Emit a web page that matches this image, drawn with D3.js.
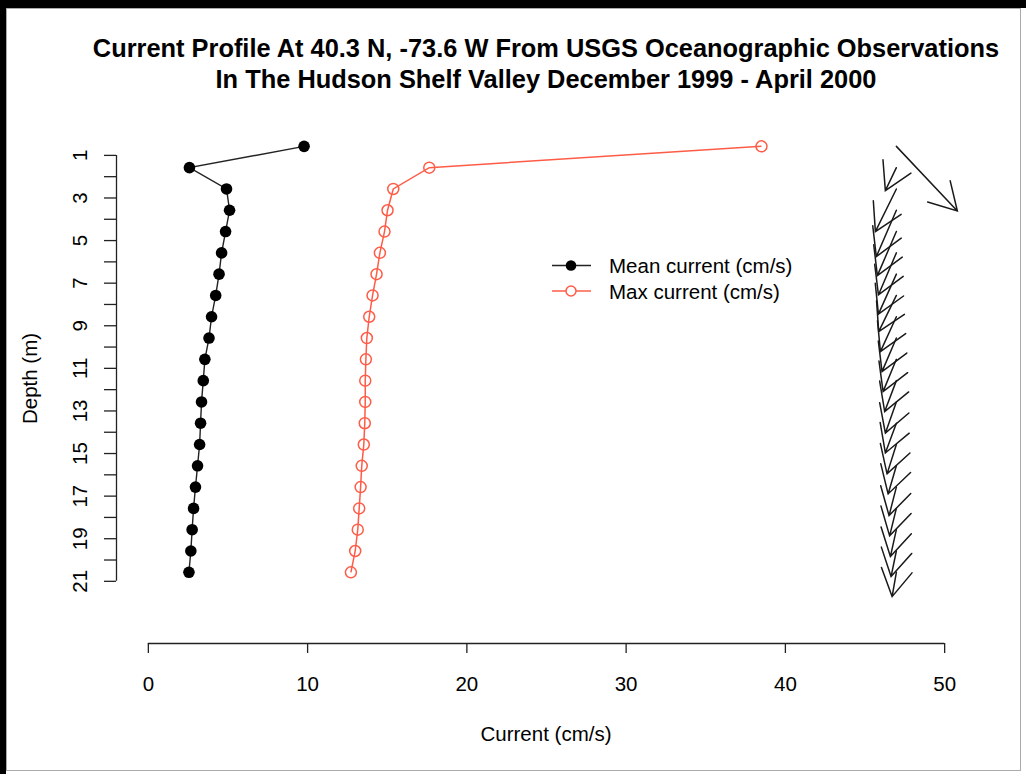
<!DOCTYPE html>
<html>
<head>
<meta charset="utf-8">
<script src="https://cdn.jsdelivr.net/npm/d3@7"></script>
<style>
  html, body { margin: 0; padding: 0; background: #fff; }
  svg { display: block; }
  text { font-family: "Liberation Sans", Arial, Helvetica, sans-serif; fill: #000; }
</style>
</head>
<body>
<svg id="chart" width="1026" height="774"></svg>
<script>
// ---- data ----
const titleLines = [
  "Current Profile At 40.3 N, -73.6 W From USGS Oceanographic Observations",
  "In The Hudson Shelf Valley December 1999 - April 2000"
];
const depths = [0.6, 1.6, 2.6, 3.6, 4.6, 5.6, 6.6, 7.6, 8.6, 9.6, 10.6,
                11.6, 12.6, 13.6, 14.6, 15.6, 16.6, 17.6, 18.6, 19.6, 20.6];
const meanCurrent = [9.81, 2.61, 4.94, 5.13, 4.88, 4.63, 4.47, 4.26, 4.00, 3.84, 3.58,
                     3.48, 3.37, 3.31, 3.25, 3.12, 2.99, 2.87, 2.78, 2.70, 2.58];
const maxCurrent = [38.53, 17.67, 15.41, 15.05, 14.86, 14.57, 14.36, 14.11, 13.90, 13.75, 13.69,
                    13.65, 13.65, 13.62, 13.56, 13.43, 13.36, 13.27, 13.18, 13.02, 12.75];
// mean velocity vector components (cm/s): east (u) and north (v)
const meanU = [6.42, -1.16, -2.21, -2.11, -2.00, -1.89, -1.89, -1.86, -1.68, -1.51, -1.40,
               -1.23, -1.16, -1.16, -0.98, -0.87, -0.77, -0.71, -0.63, -0.56, -0.45];
const meanV = [-6.80, -2.42, -4.49, -4.88, -4.64, -4.43, -4.21, -3.81, -3.67, -3.54, -3.40,
               -3.26, -3.29, -3.13, -3.09, -2.96, -3.00, -2.89, -2.83, -2.69, -2.56];
const arrowOriginX = 47;
const xTicks = [0, 10, 20, 30, 40, 50];
const yTicks = [1, 2, 3, 4, 5, 6, 7, 8, 9, 10, 11, 12, 13, 14, 15, 16, 17, 18, 19, 20, 21];
const yTickLabels = [1, 3, 5, 7, 9, 11, 13, 15, 17, 19, 21];
const legendLabels = ["Mean current (cm/s)", "Max current (cm/s)"];
const xTitle = "Current (cm/s)";
const yTitle = "Depth (m)";

// ---- layout ----
const svg = d3.select("#chart");
const plot = { left: 116, right: 976, top: 114, bottom: 643 };
const x = d3.scaleLinear().domain([-2, 52]).range([plot.left, plot.right]);
const y = d3.scaleLinear().domain([-0.92, 23.92]).range([plot.top, plot.bottom]);
const vecScale = d3.scaleLinear().domain([0, 1]).range([0, 9.5]);
const meanColor = "#000";
const maxColor = "#ff5c47";

svg.append("rect").attr("width", 1026).attr("height", 774).attr("fill", "#fff");

// frame
svg.append("rect").attr("x", 6.5).attr("y", 8.5).attr("width", 1014).attr("height", 762)
  .attr("fill", "none").attr("stroke", "#aaa").attr("stroke-width", 1);
svg.append("rect").attr("x", 0).attr("y", 0).attr("width", 1026).attr("height", 8).attr("fill", "#000");
svg.append("rect").attr("x", 0).attr("y", 0).attr("width", 6).attr("height", 774).attr("fill", "#000");

// title
const cx = (plot.left + plot.right) / 2;
svg.selectAll("text.title").data(titleLines).join("text")
  .attr("class", "title")
  .attr("x", cx).attr("y", (d, i) => 57 + i * 31)
  .attr("text-anchor", "middle")
  .attr("font-size", 25.4).attr("font-weight", "bold")
  .text(d => d);

// x axis
const xAxis = d3.axisBottom(x).tickValues(xTicks).tickSize(10).tickPadding(23).tickFormat(d3.format("d"));
const gx = svg.append("g").attr("transform", `translate(0,${plot.bottom})`).call(xAxis);
gx.select(".domain").attr("d", `M${x(0)},0.5H${x(50)}`).attr("stroke", "#222").attr("stroke-width", 1.3);
gx.selectAll(".tick line").attr("stroke", "#222").attr("stroke-width", 1.3);
gx.selectAll(".tick text").attr("font-size", 20.5).attr("font-family", "Liberation Sans, Arial, sans-serif").attr("fill", "#000");

svg.append("text").attr("x", cx).attr("y", 741).attr("text-anchor", "middle")
  .attr("font-size", 20.5).text(xTitle);

// y axis
const yAxis = d3.axisLeft(y).tickValues(yTicks).tickSize(12).tickFormat(d => yTickLabels.includes(d) ? d : "");
const gy = svg.append("g").attr("transform", `translate(${plot.left},0)`).call(yAxis);
gy.select(".domain").attr("d", `M0.5,${y(1)}V${y(21)}`).attr("stroke", "#222").attr("stroke-width", 1.3);
gy.selectAll(".tick line").attr("stroke", "#222").attr("stroke-width", 1.3);
gy.selectAll(".tick text")
  .attr("x", null).attr("dy", null)
  .attr("transform", "translate(-29,0) rotate(-90)")
  .attr("text-anchor", "middle")
  .attr("font-size", 20.5).attr("font-family", "Liberation Sans, Arial, sans-serif").attr("fill", "#000");

svg.append("text")
  .attr("transform", `translate(37,${(plot.top + plot.bottom) / 2}) rotate(-90)`)
  .attr("text-anchor", "middle").attr("font-size", 20.5).text(yTitle);

// mean current series
const rows = depths.map((d, i) => ({ depth: d, mean: meanCurrent[i], max: maxCurrent[i], u: meanU[i], v: meanV[i] }));
const lineMean = d3.line().x(d => x(d.mean)).y(d => y(d.depth));
const lineMax = d3.line().x(d => x(d.max)).y(d => y(d.depth));

svg.append("path").datum(rows).attr("d", lineMean)
  .attr("fill", "none").attr("stroke", "#222").attr("stroke-width", 1.4);
svg.selectAll("circle.mean").data(rows).join("circle").attr("class", "mean")
  .attr("cx", d => x(d.mean)).attr("cy", d => y(d.depth)).attr("r", 5.8).attr("fill", meanColor);

svg.append("path").datum(rows).attr("d", lineMax)
  .attr("fill", "none").attr("stroke", maxColor).attr("stroke-width", 1.5);
svg.selectAll("circle.max").data(rows).join("circle").attr("class", "max")
  .attr("cx", d => x(d.max)).attr("cy", d => y(d.depth)).attr("r", 5.5)
  .attr("fill", "none").attr("stroke", maxColor).attr("stroke-width", 1.5);

// vector arrows
const headLen = 31, headAng = Math.PI / 6;
const arrows = svg.append("g").attr("stroke", "#1a1a1a").attr("stroke-width", 1.5).attr("fill", "none")
  .attr("stroke-linecap", "round");
rows.forEach(d => {
  const x0 = x(arrowOriginX), y0 = y(d.depth);
  const x1 = x0 + vecScale(d.u), y1 = y0 - vecScale(d.v);
  const ang = Math.atan2(y0 - y1, x0 - x1);
  const p = d3.path();
  p.moveTo(x0, y0); p.lineTo(x1, y1);
  p.moveTo(x1 + headLen * Math.cos(ang + headAng), y1 + headLen * Math.sin(ang + headAng));
  p.lineTo(x1, y1);
  p.lineTo(x1 + headLen * Math.cos(ang - headAng), y1 + headLen * Math.sin(ang - headAng));
  arrows.append("path").attr("d", p.toString());
});

// legend
const leg = svg.append("g");
const legY = [265.5, 291];
legendLabels.forEach((lab, i) => {
  const col = i === 0 ? "#222" : maxColor;
  leg.append("line").attr("x1", 552).attr("x2", 591).attr("y1", legY[i]).attr("y2", legY[i])
    .attr("stroke", col).attr("stroke-width", 1.5);
  const c = leg.append("circle").attr("cx", 571).attr("cy", legY[i]).attr("r", i === 0 ? 5.3 : 5);
  if (i === 0) c.attr("fill", meanColor);
  else c.attr("fill", "#fff").attr("stroke", maxColor).attr("stroke-width", 1.5);
  leg.append("text").attr("x", 609).attr("y", legY[i] + 7.5).attr("font-size", 20.5).text(lab);
});
</script>
</body>
</html>
